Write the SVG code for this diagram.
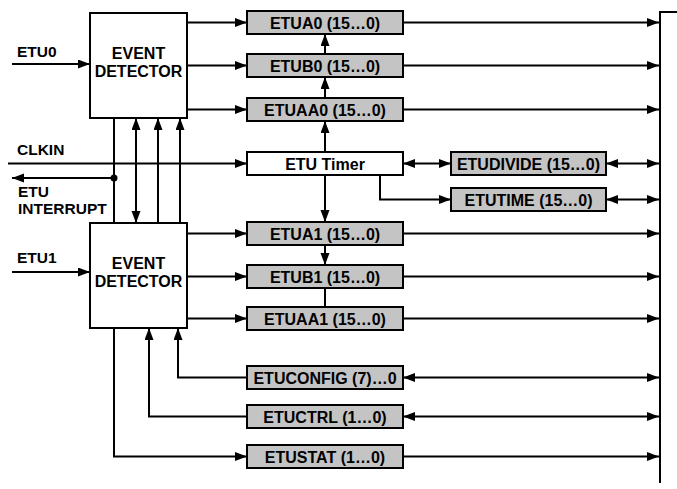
<svg xmlns="http://www.w3.org/2000/svg" width="677" height="489" viewBox="0 0 677 489">
<style>
.box{fill:#ffffff;stroke:#000;stroke-width:2}
.reg{fill:#c4c4c4;stroke:#000;stroke-width:2}
.t{font-family:"Liberation Sans",Arial,sans-serif;font-weight:bold;font-size:16px;fill:#000;text-anchor:middle}
.lbl{font-family:"Liberation Sans",Arial,sans-serif;font-weight:bold;font-size:15.5px;fill:#000}
.ln{fill:none;stroke:#000;stroke-width:2}
.a{marker-end:url(#ah)}
.b{marker-start:url(#ah);marker-end:url(#ah)}
</style>
<defs>
<marker id="ah" markerUnits="userSpaceOnUse" markerWidth="13" markerHeight="10" refX="12" refY="4.5" orient="auto-start-reverse">
<path d="M0,0 L12,4.5 L0,9 z" fill="#000"/>
</marker>
</defs>

<g id="labels">
<text class="lbl" x="17" y="57">ETU0</text>
<text class="lbl" x="17" y="155">CLKIN</text>
<text class="lbl" x="18" y="197">ETU</text>
<text class="lbl" x="18" y="214">INTERRUPT</text>
<text class="lbl" x="17" y="263">ETU1</text>
</g>

<g id="connectors">
<line class="ln a" x1="12" y1="64" x2="90" y2="64"/>
<line class="ln a" x1="12" y1="272" x2="90" y2="272"/>
<line class="ln a" x1="8" y1="163.5" x2="247" y2="163.5"/>
<line class="ln a" x1="114" y1="178" x2="12" y2="178"/>
<circle cx="114" cy="178" r="3.5" fill="#000"/>
<line class="ln" x1="114" y1="118" x2="114" y2="223"/>
<line class="ln b" x1="136" y1="118" x2="136" y2="223"/>
<line class="ln a" x1="158" y1="223" x2="158" y2="118"/>
<line class="ln a" x1="180" y1="223" x2="180" y2="118"/>
<line class="ln a" x1="187" y1="22.5" x2="247" y2="22.5"/>
<line class="ln a" x1="187" y1="65.5" x2="247" y2="65.5"/>
<line class="ln a" x1="187" y1="109.5" x2="247" y2="109.5"/>
<line class="ln a" x1="187" y1="233.5" x2="247" y2="233.5"/>
<line class="ln a" x1="187" y1="276.5" x2="247" y2="276.5"/>
<line class="ln a" x1="187" y1="318.5" x2="247" y2="318.5"/>
<line class="ln a" x1="325" y1="54" x2="325" y2="34"/>
<line class="ln a" x1="325" y1="98" x2="325" y2="77"/>
<line class="ln a" x1="325" y1="152" x2="325" y2="121"/>
<line class="ln a" x1="325" y1="175" x2="325" y2="222"/>
<line class="ln a" x1="325" y1="245" x2="325" y2="265"/>
<line class="ln" x1="325" y1="288" x2="325" y2="307"/>
<line class="ln b" x1="403" y1="163.5" x2="451" y2="163.5"/>
<polyline class="ln a" points="380,175 380,199.5 451,199.5"/>
<polyline class="ln a" points="114,328 114,456.5 247,456.5"/>
<polyline class="ln a" points="247,416.5 149,416.5 149,328"/>
<polyline class="ln a" points="247,377.5 178,377.5 178,328"/>
<line class="ln a" x1="403" y1="22.5" x2="659" y2="22.5"/>
<line class="ln a" x1="403" y1="65.5" x2="659" y2="65.5"/>
<line class="ln a" x1="403" y1="109.5" x2="659" y2="109.5"/>
<line class="ln b" x1="606" y1="163.5" x2="659" y2="163.5"/>
<line class="ln b" x1="606" y1="199.5" x2="659" y2="199.5"/>
<line class="ln a" x1="403" y1="233.5" x2="659" y2="233.5"/>
<line class="ln a" x1="403" y1="276.5" x2="659" y2="276.5"/>
<line class="ln a" x1="403" y1="318.5" x2="659" y2="318.5"/>
<line class="ln b" x1="403" y1="377.5" x2="659" y2="377.5"/>
<line class="ln b" x1="403" y1="416.5" x2="659" y2="416.5"/>
<line class="ln a" x1="403" y1="456.5" x2="659" y2="456.5"/>
<polyline class="ln" points="677,12 660,12 660,483"/>
</g>

<g id="detector0"><rect class="box" x="90" y="13" width="97" height="105"/><text class="t" x="138.5" y="59">EVENT</text><text class="t" x="138.5" y="77">DETECTOR</text></g>
<g id="detector1"><rect class="box" x="90" y="223" width="97" height="105"/><text class="t" x="138.5" y="269">EVENT</text><text class="t" x="138.5" y="287">DETECTOR</text></g>

<g id="etua0"><rect class="reg" x="247" y="11" width="156" height="23"/><text class="t" x="325" y="28.5">ETUA0 (15…0)</text></g>
<g id="etub0"><rect class="reg" x="247" y="54" width="156" height="23"/><text class="t" x="325" y="71.5">ETUB0 (15…0)</text></g>
<g id="etuaa0"><rect class="reg" x="247" y="98" width="156" height="23"/><text class="t" x="325" y="115.5">ETUAA0 (15…0)</text></g>
<g id="etutimer"><rect class="box" x="247" y="152" width="156" height="23"/><text class="t" x="325" y="169.5">ETU Timer</text></g>
<g id="etudivide"><rect class="reg" x="451" y="152" width="155" height="23"/><text class="t" x="528.5" y="169.5">ETUDIVIDE (15…0)</text></g>
<g id="etutime"><rect class="reg" x="451" y="188" width="155" height="23"/><text class="t" x="528.5" y="205.5">ETUTIME (15…0)</text></g>
<g id="etua1"><rect class="reg" x="247" y="222" width="156" height="23"/><text class="t" x="325" y="239.5">ETUA1 (15…0)</text></g>
<g id="etub1"><rect class="reg" x="247" y="265" width="156" height="23"/><text class="t" x="325" y="282.5">ETUB1 (15…0)</text></g>
<g id="etuaa1"><rect class="reg" x="247" y="307" width="156" height="23"/><text class="t" x="325" y="324.5">ETUAA1 (15…0)</text></g>
<g id="etuconfig"><rect class="reg" x="247" y="366" width="156" height="23"/><text class="t" x="325" y="383.5">ETUCONFIG (7)…0</text></g>
<g id="etuctrl"><rect class="reg" x="247" y="405" width="156" height="23"/><text class="t" x="325" y="422.5">ETUCTRL (1…0)</text></g>
<g id="etustat"><rect class="reg" x="247" y="445" width="156" height="23"/><text class="t" x="325" y="462.5">ETUSTAT (1…0)</text></g>
</svg>
